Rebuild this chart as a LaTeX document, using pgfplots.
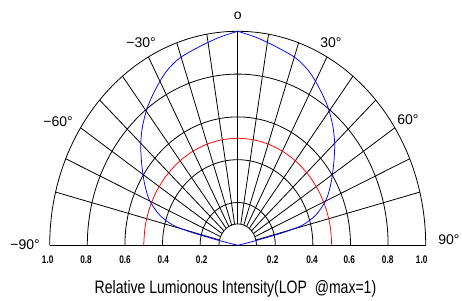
\documentclass[border=0pt]{standalone}
\usepackage{fontspec}
\setmainfont{Liberation Sans}
\newfontfamily\narrowfont[FakeStretch=0.78]{Liberation Sans}
\newfontfamily\tickfont[FakeStretch=0.75]{Liberation Sans}
\usepackage{pgfplots}
\pgfplotsset{compat=1.18}
\begin{document}
\begin{tikzpicture}[x=1pt,y=1pt]
% polar grid (elliptical, as in the reference)
\begin{scope}[shift={(237.7,54.7)}, line width=0.8pt]
\foreach \r in {0.1,0.2,0.4,0.6,0.8,1.0}
  \draw ({188*\r},0) arc[start angle=0,end angle=180,x radius={188pt*\r},y radius={214pt*\r}];
\foreach \k in {-8,...,8}
  \draw ({18.8*sin(9.45*\k)},{21.4*cos(9.45*\k)}) -- ({188*sin(9.45*\k)},{214*cos(9.45*\k)});
\draw (-188,0) -- (188,0);
\end{scope}
\begin{axis}[at={(237.7pt,54.7pt)}, anchor=origin, x=188pt, y=214pt,
  xmin=-1, xmax=1, ymin=0, ymax=1, axis lines=none, clip=false]
\addplot[red, line width=0.75pt, smooth, data cs=polar] coordinates {
(0,0.5) (10,0.5) (20,0.5) (30,0.5) (40,0.5) (50,0.5) (60,0.5) (70,0.5) (80,0.5) (90,0.5)
(100,0.5) (110,0.5) (120,0.5) (130,0.5) (140,0.5) (150,0.5) (160,0.5) (170,0.5) (180,0.5)};
\addplot[blue, line width=0.75pt, smooth] coordinates {
(0,1.0) (0.097,0.972) (0.204,0.928) (0.310,0.874) (0.381,0.811) (0.434,0.734)
(0.479,0.648) (0.505,0.562) (0.514,0.500) (0.516,0.460) (0.511,0.383) (0.496,0.290)
(0.470,0.212) (0.416,0.142) (0.346,0.095) (0.257,0.064) (0.168,0.040) (0.080,0.018) (0,0)};
\addplot[blue, line width=0.75pt, smooth] coordinates {
(0,1.0) (-0.097,0.972) (-0.204,0.928) (-0.310,0.874) (-0.381,0.811) (-0.434,0.734)
(-0.479,0.648) (-0.505,0.562) (-0.514,0.500) (-0.516,0.460) (-0.511,0.383) (-0.496,0.290)
(-0.470,0.212) (-0.416,0.142) (-0.346,0.095) (-0.257,0.064) (-0.168,0.040) (-0.080,0.018) (0,0)};
\end{axis}
% angle labels
\begin{scope}[every node/.style={font=\fontsize{14}{14}\selectfont, inner sep=0pt}]
\node at (237.7,284) {o};
\node at (141,257) {−30°};
\node at (331,257) {30°};
\node at (58,178) {−60°};
\node at (408,180) {60°};
\node at (25,55) {−90°};
\node at (449,60) {90°};
\end{scope}
% radial tick labels
\begin{scope}[every node/.style={font=\fontsize{11}{12}\tickfont\bfseries, inner sep=0pt}]
\node at (47.7,40) {1.0};
\node at (86,40) {0.8};
\node at (125,40) {0.6};
\node at (163.3,40) {0.4};
\node at (201.7,40) {0.2};
\node at (272.7,40) {0.2};
\node at (312,40) {0.4};
\node at (349.3,40) {0.6};
\node at (387.7,40) {0.8};
\node at (421.7,40) {1.0};
\end{scope}
\node[font=\fontsize{18}{20}\narrowfont, inner sep=0pt] at (235.5,11) {Relative Lumionous Intensity(LOP\ \ @max=1)};
\pgfresetboundingbox
\path[use as bounding box] (0,0) rectangle (462,300);
\end{tikzpicture}
\end{document}
